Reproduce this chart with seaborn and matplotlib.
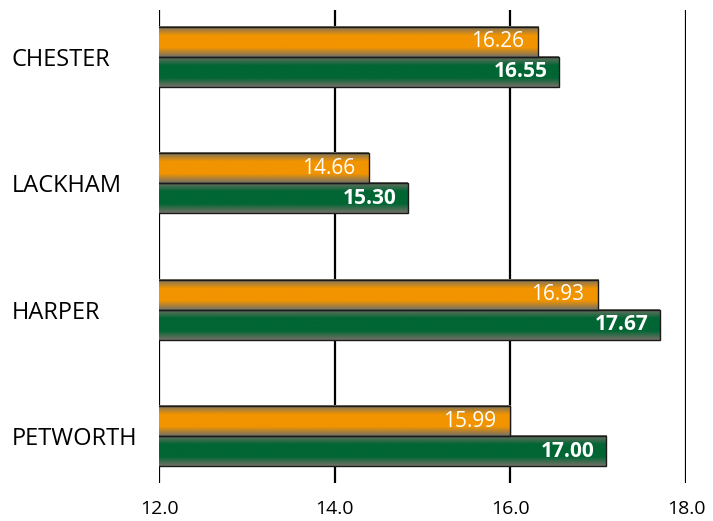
import numpy as np
import pandas as pd
import seaborn as sns
import matplotlib.pyplot as plt
from matplotlib.colors import to_rgb

# values (bar lengths) and the printed labels
colleges = ["CHESTER", "LACKHAM", "HARPER", "PETWORTH"]
series_names = ["Series 1", "Series 2"]
orange_values = [16.32, 14.39, 17.00, 16.00]
green_values = [16.55, 14.83, 17.70, 17.09]
orange_labels = ["16.26", "14.66", "16.93", "15.99"]
green_labels = ["16.55", "15.30", "17.67", "17.00"]
x_ticks = [12.0, 14.0, 16.0, 18.0]

ORANGE = "#f29400"
GREEN = "#006633"
EDGE_GRAY = (0.45, 0.44, 0.40)


def gradient_image(color, n=64):
    # gray at top/bottom edge, fading into solid colour in the middle
    t = np.linspace(0, 1, n)
    frac = np.clip((0.5 - np.abs(t - 0.5)) / 0.3, 0, 1)[:, None]
    c = np.array(to_rgb(color))[None, :]
    g = np.array(EDGE_GRAY)[None, :]
    rgb = g * (1 - frac) + c * frac
    return rgb[:, None, :]


def main():
    df = pd.DataFrame({
        "college": colleges * 2,
        "series": [series_names[0]] * 4 + [series_names[1]] * 4,
        "value": orange_values + green_values,
    })

    sns.set_theme(style="white")
    plt.rcParams["font.family"] = ["Open Sans", "DejaVu Sans"]

    fig = plt.figure(figsize=(7.13, 5.21), dpi=100)
    ax = fig.add_axes([159 / 713, 1 - 483 / 521, (686 - 159) / 713, (483 - 10) / 521])

    sns.barplot(data=df, y="college", x="value", hue="series", orient="h",
                palette=[ORANGE, GREEN], saturation=1, width=0.475,
                edgecolor="#1a1a1a", linewidth=1.0, legend=False, ax=ax)

    # gradient fill for each bar
    colors = [ORANGE, GREEN]
    for cont, col in zip(ax.containers, colors):
        img = gradient_image(col)
        for patch in cont:
            x0, y0 = patch.get_x(), patch.get_y()
            w, h = patch.get_width(), patch.get_height()
            ax.imshow(img, extent=(x0, x0 + w, y0 + h, y0), aspect="auto",
                      interpolation="bilinear", zorder=2)
            patch.set_facecolor("none")
            patch.set_zorder(3)

    # value labels inside bar ends
    for cont, labels, weight, off in zip(ax.containers, [orange_labels, green_labels],
                                         ["normal", "bold"], [-10, -8]):
        for patch, lab in zip(cont, labels):
            ax.annotate(lab, (patch.get_x() + patch.get_width(), patch.get_y() + patch.get_height() / 2),
                        xytext=(off, 0), textcoords="offset points", ha="right", va="center",
                        color="white", fontsize=15, fontweight=weight, zorder=4)

    for xv in x_ticks:
        ax.axvline(xv, color="black", lw=1.6, zorder=1)

    ax.set_xlim(12, 18)
    ax.set_ylim(3.372, -0.372)
    ax.set_xticks(x_ticks)
    ax.set_xticklabels([f"{v:.1f}" for v in x_ticks], fontsize=14)
    ax.set_xlabel("")
    ax.set_ylabel("")
    for s in ax.spines.values():
        s.set_visible(False)
    ax.tick_params(axis="x", length=0, pad=12, colors="black")
    ax.tick_params(axis="y", length=0, pad=106, colors="black", labelsize=17)
    for lab in ax.get_yticklabels():
        lab.set_horizontalalignment("left")

    fig.savefig("out.png", dpi=100)
    plt.close(fig)


if __name__ == "__main__":
    main()
